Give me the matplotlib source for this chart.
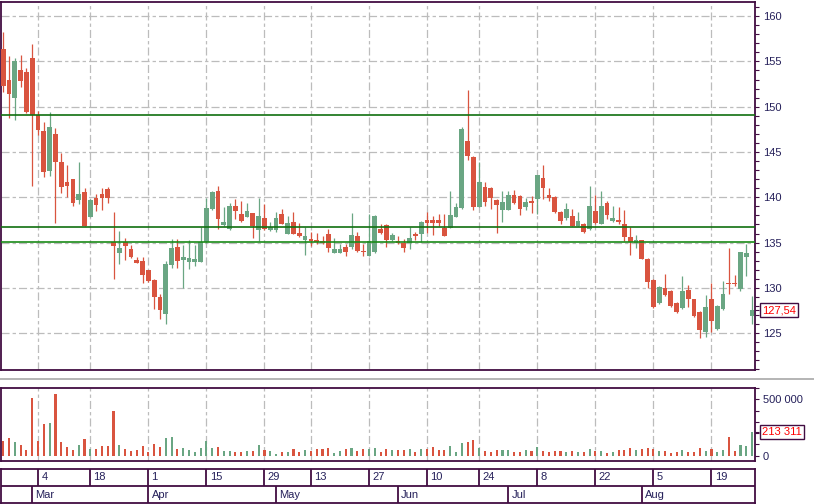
import matplotlib
matplotlib.use("Agg")
import matplotlib.pyplot as plt
import pandas as pd
from matplotlib.lines import Line2D
from matplotlib.ticker import FixedLocator, FuncFormatter

# trading days (Moscow exchange, 2019)
holidays = ["2019-03-08", "2019-05-01", "2019-05-09", "2019-06-12"]
dates = pd.bdate_range("2019-02-22", "2019-08-28")
dates = dates[~dates.isin(pd.to_datetime(holidays))]

opens = [156.4, 152.95, 151.0, 154.05, 153.83, 155.4, 149.05, 147.3, 142.9, 146.99,
         143.9, 141.72, 142.0, 139.7, 140.58, 137.86, 139.92, 140.36, 140.9, 135.03,
         133.88, 135.03, 134.3, 133.08, 132.97, 131.97, 130.87, 129.0, 127.15, 132.56,
         134.51, 133.08, 132.9, 132.9, 132.9, 135.03, 138.71, 140.7, 136.94, 136.53,
         139.04, 138.16, 137.83, 138.27, 136.42, 137.72, 136.42, 136.42, 138.16, 135.98,
         137.27, 136.06, 135.32, 135.4, 135.3, 135.18, 135.95, 133.88, 133.88, 134.51,
         134.55, 135.73, 134.05, 133.55, 133.99, 136.5, 136.94, 135.29, 135.18, 134.96,
         134.92, 135.95, 135.98, 137.5, 137.5, 137.5, 136.64, 136.64, 137.86, 138.85,
         146.21, 144.45, 138.96, 141.14, 141.03, 139.7, 138.63, 138.63, 140.25, 140.14,
         138.96, 139.55, 139.85, 142.13, 140.25, 140.03, 138.41, 137.75, 137.97, 136.87,
         137.09, 136.53, 138.52, 137.09, 139.37, 137.42, 137.53, 137.09, 135.65, 135.0,
         135.29, 133.22, 130.9, 128.33, 129.99, 129.66, 128.33, 127.78, 129.77, 128.77,
         127.34, 125.17, 128.77, 125.5, 127.7, 130.5, 130.5, 129.91, 133.41, 126.93]
highs = [158.2, 155.6, 155.4, 155.7, 154.3, 156.9, 149.5, 148.3, 149.4, 147.65,
         144.9, 143.6, 142.05, 143.9, 141.03, 139.8, 140.36, 141.03, 141.17, 138.38,
         136.28, 135.5, 134.73, 133.41, 133.41, 132.0, 131.0, 129.33, 132.97, 135.4,
         135.4, 134.7, 135.3, 134.77, 136.72, 139.92, 140.73, 141.28, 138.93, 139.37,
         139.81, 139.59, 139.37, 138.3, 139.92, 139.26, 137.27, 138.38, 138.7, 137.94,
         138.38, 137.16, 136.73, 136.17, 136.06, 135.73, 136.5, 135.5, 134.84, 134.84,
         138.27, 136.17, 134.84, 138.16, 138.0, 137.05, 137.0, 136.06, 135.73, 135.4,
         136.72, 136.17, 137.38, 138.38, 137.94, 138.16, 138.16, 140.7, 139.37, 147.76,
         151.84, 144.55, 143.9, 141.69, 141.1, 139.8, 140.7, 140.7, 140.8, 140.2,
         139.96, 140.14, 142.5, 143.57, 141.06, 140.1, 138.5, 139.4, 138.74, 138.41,
         137.2, 141.25, 140.29, 140.7, 139.62, 139.07, 138.96, 138.63, 136.75, 135.87,
         135.3, 133.3, 131.0, 130.2, 131.53, 129.8, 128.4, 131.31, 130.32, 128.8,
         127.4, 129.22, 130.54, 128.1, 130.76, 134.4, 131.42, 134.0, 134.84, 129.1]
lows = [151.65, 148.7, 148.5, 152.2, 149.3, 141.3, 146.9, 142.2, 142.4, 137.2,
        140.5, 140.07, 139.04, 139.26, 136.8, 137.8, 138.52, 138.6, 139.4, 131.0,
        132.67, 133.08, 133.3, 132.7, 130.54, 130.7, 127.67, 126.6, 126.05, 132.2,
        132.2, 130.0, 132.09, 132.4, 132.85, 134.95, 138.65, 136.53, 136.87, 136.42,
        137.64, 137.3, 137.78, 135.54, 135.2, 136.4, 136.3, 136.2, 137.0, 135.9,
        135.9, 135.65, 133.66, 134.66, 134.9, 134.8, 133.96, 133.8, 133.8, 133.55,
        134.3, 134.0, 133.55, 133.5, 133.9, 136.0, 134.55, 135.2, 134.8, 133.96,
        134.3, 135.29, 135.03, 136.09, 135.87, 136.87, 135.7, 136.6, 137.8, 138.74,
        144.15, 138.63, 138.9, 139.07, 138.74, 136.09, 137.31, 138.6, 139.3, 138.08,
        138.63, 138.3, 138.19, 139.85, 139.62, 138.3, 137.09, 137.5, 136.8, 136.8,
        136.1, 136.4, 137.1, 137.0, 137.64, 137.3, 137.09, 135.2, 133.66, 134.44,
        133.2, 130.02, 127.8, 128.2, 129.1, 127.9, 127.2, 127.7, 127.89, 126.8,
        124.5, 124.61, 125.17, 125.4, 127.6, 129.33, 130.2, 129.69, 131.35, 126.05]
closes = [152.3, 151.4, 155.0, 152.87, 149.4, 149.1, 147.46, 142.8, 147.76, 143.93,
          141.17, 141.28, 139.4, 140.36, 136.87, 139.7, 139.18, 139.92, 139.96, 134.66,
          134.4, 134.66, 133.41, 132.78, 131.42, 130.8, 129.03, 127.6, 132.64, 134.4,
          132.97, 133.41, 133.3, 133.19, 135.03, 138.82, 140.55, 137.64, 137.31, 139.04,
          138.52, 137.42, 138.49, 136.87, 137.94, 136.53, 136.72, 137.72, 137.09, 137.16,
          135.98, 135.76, 135.76, 135.21, 135.03, 134.92, 134.44, 134.3, 134.3, 133.99,
          135.84, 134.11, 133.95, 135.18, 137.94, 136.09, 135.29, 135.84, 134.92, 134.44,
          135.5, 135.76, 137.27, 137.2, 137.2, 137.2, 135.76, 138.05, 138.93, 147.54,
          144.59, 138.96, 141.69, 139.51, 139.96, 139.18, 139.48, 140.25, 139.4, 138.74,
          139.48, 139.4, 142.46, 141.06, 139.96, 138.41, 137.42, 138.74, 136.87, 137.42,
          136.2, 139.07, 137.2, 139.07, 138.08, 137.75, 137.31, 135.65, 135.1, 135.32,
          133.22, 130.68, 127.89, 130.1, 129.22, 128.0, 127.34, 129.66, 128.77, 126.9,
          125.35, 127.89, 126.38, 128.0, 129.33, 130.4, 130.4, 133.96, 133.85, 127.54]
volumes = [130000, 157000, 124000, 95000, 50000, 511000, 133000, 284000, 290000, 547000,
           121000, 77000, 50000, 95000, 148000, 59000, 59000, 86000, 86000, 396000,
           95000, 59000, 44000, 50000, 86000, 33000, 103000, 77000, 157000, 165000,
           59000, 68000, 50000, 33000, 68000, 133000, 68000, 77000, 41000, 41000,
           33000, 33000, 41000, 41000, 95000, 50000, 41000, 15000, 33000, 33000,
           59000, 33000, 50000, 41000, 59000, 59000, 68000, 24000, 41000, 59000,
           68000, 41000, 59000, 59000, 68000, 33000, 59000, 50000, 50000, 50000,
           59000, 33000, 59000, 59000, 77000, 50000, 50000, 86000, 33000, 112000,
           121000, 139000, 68000, 41000, 33000, 50000, 50000, 50000, 33000, 33000,
           50000, 44000, 77000, 41000, 33000, 41000, 41000, 33000, 41000, 33000,
           33000, 59000, 41000, 41000, 24000, 33000, 50000, 50000, 68000, 50000,
           59000, 68000, 59000, 41000, 41000, 24000, 33000, 50000, 33000, 33000,
           68000, 41000, 59000, 33000, 50000, 165000, 41000, 95000, 86000, 213311]

level_lines = [149.05, 136.67, 135.05]
level_colors = ["#11700f", "#11700f", "#1a8a18"]

day_ticks = ["2019-03-04", "2019-03-18", "2019-04-01", "2019-04-15", "2019-04-29",
             "2019-05-13", "2019-05-27", "2019-06-10", "2019-06-24", "2019-07-08",
             "2019-07-22", "2019-08-05", "2019-08-19"]
month_names = ["Mar", "Apr", "May", "Jun", "Jul", "Aug"]

UP = "#6aa683"
DOWN = "#d9543f"
FRAME = "#420d42"
TXT = "#25205a"
GRID = "#bcbcbc"

plt.rcParams["font.family"] = ["Liberation Sans", "DejaVu Sans"]
plt.rcParams["font.size"] = 8
plt.rcParams["lines.scale_dashes"] = False

n = len(dates)
x = list(range(n))
day_idx = [dates.get_loc(pd.Timestamp(d)) for d in day_ticks]
month_idx = [int((dates.month == m).argmax()) for m in range(3, 9)]

W, H = 814, 504
fig = plt.figure(figsize=(W / 100, H / 100), dpi=100)

ax = fig.add_axes([0.5 / W, 1 - 370 / H, 754.5 / W, 368.5 / H])
axv = fig.add_axes([0.5 / W, 1 - 461 / H, 754.5 / W, 73.3 / H])
axd = fig.add_axes([0.5 / W, 1 - 503 / H, 754.5 / W, 34 / H])

xlim = (-0.47, n - 1 + 0.5)
# long dash / short dash pattern like the terminal grid
grid_style = dict(color=GRID, linestyle=(0, (5.8, 2.2, 2.4, 2.2)), linewidth=0.9)

# candles
colors = [UP if c >= o else DOWN for o, c in zip(opens, closes)]
bottoms = [min(o, c) for o, c in zip(opens, closes)]
heights = [max(abs(c - o), 0.12) for o, c in zip(opens, closes)]
ax.vlines(x, lows, highs, colors=colors, linewidth=0.9, zorder=2)
ax.bar(x, heights, bottom=bottoms, width=0.82, color=colors, linewidth=0, zorder=3)
for lv, lc in zip(level_lines, level_colors):
    ax.axhline(lv, color=lc, linewidth=1.2, zorder=4)

ax.set_xlim(*xlim)
ax.set_ylim(120.94, 161.61)
ax.set_xticks(day_idx)
ax.yaxis.tick_right()
ax.yaxis.set_major_locator(FixedLocator(list(range(125, 161, 5))))
ax.yaxis.set_minor_locator(FixedLocator(list(range(121, 162)) + [closes[-1]]))
ax.tick_params(axis="x", bottom=False, labelbottom=False)
ax.tick_params(axis="y", which="both", direction="out", length=2.8, width=0.8,
               color=FRAME, labelcolor=TXT, pad=2.8, labelsize=8)
ax.grid(True, which="major", **grid_style)
ax.set_axisbelow(True)
for s in ax.spines.values():
    s.set_color(FRAME)
    s.set_linewidth(1.3)
ax.annotate("127,54", xy=(1, closes[-1]), xycoords=("axes fraction", "data"),
            xytext=(5.0, 0), textcoords="offset points", va="center", ha="left",
            color="red", fontsize=8,
            bbox=dict(boxstyle="square,pad=0.18", fc="white", ec=FRAME, lw=1.0))

# volume
axv.bar(x, volumes, width=0.36, color=colors, linewidth=0, zorder=3)
axv.set_xlim(*xlim)
axv.set_ylim(-47000, 603000)
axv.set_xticks(day_idx)
axv.tick_params(axis="x", bottom=False, labelbottom=False)
axv.yaxis.tick_right()
axv.yaxis.set_major_locator(FixedLocator([0, 500000]))
axv.yaxis.set_minor_locator(FixedLocator([100000, 200000, 300000, 400000, 600000, volumes[-1]]))
axv.yaxis.set_major_formatter(FuncFormatter(lambda v, p: f"{int(v):,}".replace(",", " ")))
axv.tick_params(axis="y", which="both", direction="out", length=2.8, width=0.8,
                color=FRAME, labelcolor=TXT, pad=2.8, labelsize=8)
axv.grid(True, axis="x", **grid_style)
axv.set_axisbelow(True)
for s in axv.spines.values():
    s.set_color(FRAME)
    s.set_linewidth(1.3)
axv.annotate("213 311", xy=(1, volumes[-1]), xycoords=("axes fraction", "data"),
             xytext=(5.0, 0), textcoords="offset points", va="center", ha="left",
             color="red", fontsize=8,
             bbox=dict(boxstyle="square,pad=0.18", fc="white", ec=FRAME, lw=1.0))

# date rows
axd.set_xlim(*xlim)
axd.set_ylim(0, 2)
axd.set_xticks([])
axd.set_yticks([])
for s in axd.spines.values():
    s.set_color(FRAME)
    s.set_linewidth(1.3)
axd.axhline(1, color=FRAME, linewidth=1.3)
axd.vlines(day_idx, 1, 2, color=FRAME, linewidth=1.3)
axd.vlines(month_idx, 0, 1, color=FRAME, linewidth=1.3)
for i in day_idx:
    axd.annotate(str(dates[i].day), xy=(i, 1.5), xytext=(2.3, 0), textcoords="offset points",
                 va="center", ha="left", color=TXT, fontsize=8)
for i, name in zip(month_idx, month_names):
    axd.annotate(name, xy=(i, 0.5), xytext=(2.3, 0), textcoords="offset points",
                 va="center", ha="left", color=TXT, fontsize=8)

# thin separator between price and volume panes
fig.add_artist(Line2D([0, 1], [1 - 379 / H] * 2, color="#a8a8a8", linewidth=1.2))

fig.savefig("out.png", dpi=100)
